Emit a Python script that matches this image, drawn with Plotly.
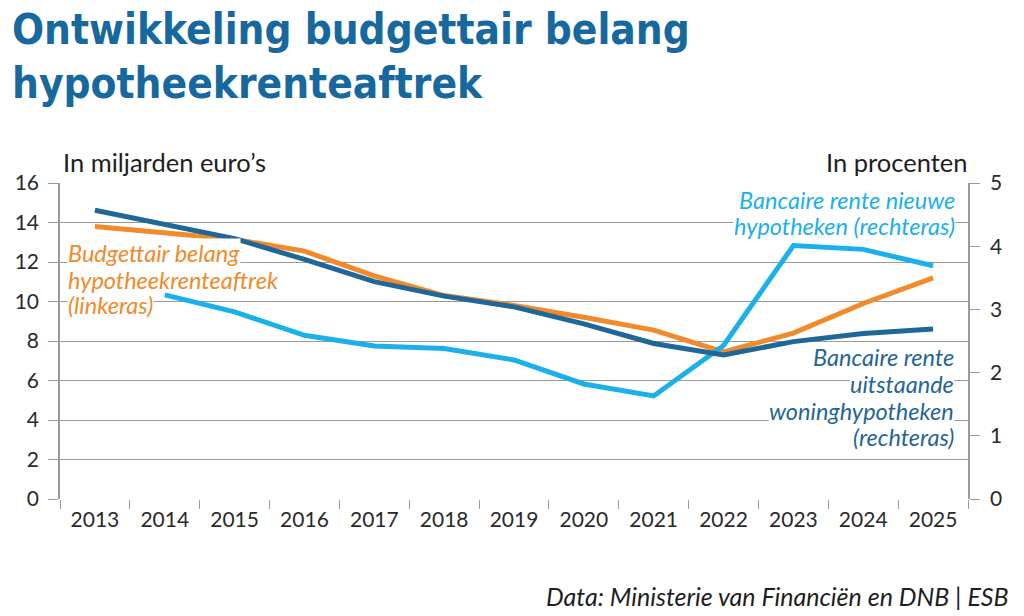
import plotly.graph_objects as go

years = [str(y) for y in range(2013, 2026)]
budget = [13.8, 13.5, 13.15, 12.55, 11.3, 10.3, 9.8, 9.2, 8.55, 7.45, 8.4, 9.9, 11.2]
uitstaand = [4.57, 4.34, 4.12, 3.79, 3.44, 3.21, 3.04, 2.77, 2.46, 2.28, 2.49, 2.62, 2.69]
nieuw = [None, 3.23, 2.96, 2.59, 2.42, 2.38, 2.2, 1.82, 1.63, 2.43, 4.01, 3.95, 3.69]

ORANGE = "#f18a2b"
DARK = "#1f6797"
LIGHT = "#1cb0ea"
TITLE = "#17699d"
GRID = "#9a9a9a"
TXT = "#1e1e1e"

L, R, T, B = 60, 968, 183, 499

fig = go.Figure()
fig.add_trace(go.Scatter(x=years, y=nieuw, mode="lines", line=dict(color=LIGHT, width=5),
                         yaxis="y2", hoverinfo="skip"))
fig.add_trace(go.Scatter(x=years, y=budget, mode="lines", line=dict(color=ORANGE, width=5),
                         yaxis="y", hoverinfo="skip"))
fig.add_trace(go.Scatter(x=years, y=uitstaand, mode="lines", line=dict(color=DARK, width=5),
                         yaxis="y2", hoverinfo="skip"))

tickfont = dict(family="Lato", size=21, color="#2a2a2a")

fig.update_layout(
    width=1024, height=616,
    margin=dict(l=L, r=1024 - R, t=T, b=616 - B),
    paper_bgcolor="white", plot_bgcolor="white",
    showlegend=False,
    xaxis=dict(type="category", tickson="boundaries", ticks="outside", ticklen=9,
               tickcolor=GRID, showline=False, showgrid=False, tickfont=tickfont,
               range=[-0.5, 12.5], fixedrange=True, ticklabelstandoff=6),
    yaxis=dict(range=[0, 16], dtick=2, showgrid=True, gridcolor=GRID, gridwidth=1.2,
               ticks="outside", ticklen=10, tickcolor=GRID, showline=True, linecolor=GRID,
               linewidth=1.5, zeroline=False, tickfont=tickfont, ticklabelstandoff=5),
    yaxis2=dict(range=[0, 5], dtick=1, overlaying="y", side="right", showgrid=False,
                ticks="outside", ticklen=10, tickcolor=GRID, showline=True, linecolor=GRID,
                linewidth=1.5, zeroline=False, tickfont=tickfont, ticklabelstandoff=6),
)

title_font = dict(family="DejaVu Sans Condensed", size=42, color=TITLE, weight="bold")
ann_size = 23.5
annots = [
    dict(text="Ontwikkeling budgettair belang", x=11, y=4,
         xanchor="left", yanchor="top", font=title_font),
    dict(text="hypotheekrenteaftrek", x=11, y=58,
         xanchor="left", yanchor="top", font=title_font),
    dict(text="In miljarden euro’s", x=62, y=178, xanchor="left", yanchor="bottom",
         font=dict(family="Lato", size=25.5, color=TXT)),
    dict(text="In procenten", x=968, y=178, xanchor="right", yanchor="bottom",
         font=dict(family="Lato", size=25.5, color=TXT)),
    dict(text="Data: Ministerie van Financiën en DNB | ESB", x=1010, y=612,
         xanchor="right", yanchor="bottom",
         font=dict(family="Lato", size=25, color=TXT, style="italic")),
]

# (text, colour, x, baseline, anchor, white box) -- boxed lines first, so that
# unboxed lines are drawn on top of neighbouring boxes
label_lines = [
    ("Budgettair belang", ORANGE, 67, 261, "left", True),
    ("(linkeras)", ORANGE, 67, 313, "left", True),
    ("hypotheekrenteaftrek", ORANGE, 67, 288, "left", False),
    ("Bancaire rente nieuwe", LIGHT, 956, 208, "right", True),
    ("hypotheken (rechteras)", LIGHT, 956, 234, "right", True),
    ("uitstaande", DARK, 955, 392, "right", True),
    ("woninghypotheken", DARK, 955, 419, "right", True),
    ("Bancaire rente", DARK, 955, 365, "right", False),
    ("(rechteras)", DARK, 955, 445, "right", False),
]
for text, col, x, base, anc, box in label_lines:
    annots.append(dict(text=text, x=x, y=base - 8, xanchor=anc, yanchor="middle",
                       bgcolor="white" if box else None,
                       font=dict(family="Lato", size=ann_size, color=col, style="italic")))

for a in annots:
    x_px, y_px = a.pop("x"), a.pop("y")
    fig.add_annotation(x=(x_px - L) / (R - L), y=(B - y_px) / (B - T),
                       xref="paper", yref="paper",
                       showarrow=False, borderpad=0, **a)

fig.write_html("out.html")
